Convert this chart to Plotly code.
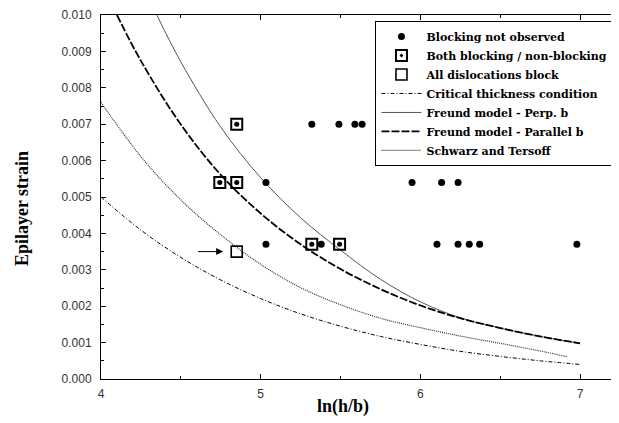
import plotly.graph_objects as go

# ---- data ----
not_obs_x = [5.32, 5.49, 5.59, 5.635, 5.033, 5.948, 6.133, 6.236, 5.033, 5.379, 6.104, 6.236, 6.306, 6.371, 6.98]
not_obs_y = [0.0070, 0.0070, 0.0070, 0.0070, 0.0054, 0.0054, 0.0054, 0.0054, 0.0037, 0.0037, 0.0037, 0.0037, 0.0037, 0.0037, 0.0037]

both_x = [4.85, 4.744, 4.85, 5.32, 5.494]
both_y = [0.0070, 0.0054, 0.0054, 0.0037, 0.0037]

all_x = [4.85]
all_y = [0.0035]

crit_x = [4.0, 4.25, 4.5, 4.75, 5.0, 5.25, 5.5, 5.75, 6.0, 6.25, 6.5, 6.75, 7.0]
crit_y = [0.00500, 0.00409, 0.00334, 0.00272, 0.00221, 0.00179, 0.00145, 0.00117, 0.00095, 0.00076, 0.00062, 0.00050, 0.00040]

perp_x = [4.35, 4.5, 4.75, 5.0, 5.25, 5.5, 5.75, 6.0, 6.25, 6.5, 6.75, 7.0]
perp_y = [0.0100, 0.00871, 0.00692, 0.00553, 0.00443, 0.00354, 0.00274, 0.00212, 0.00168, 0.00140, 0.00117, 0.00098]

par_x = [4.10, 4.25, 4.5, 4.75, 5.0, 5.25, 5.5, 5.75, 6.0, 6.25, 6.5, 6.75, 7.0]
par_y = [0.0100, 0.00874, 0.00699, 0.00561, 0.00455, 0.00370, 0.00302, 0.00247, 0.00202, 0.00167, 0.00140, 0.00117, 0.00098]

st_x = [4.0, 4.25, 4.5, 4.75, 5.0, 5.25, 5.5, 5.75, 6.0, 6.25, 6.5, 6.75, 6.92]
st_y = [0.0076, 0.00611, 0.00492, 0.00396, 0.00315, 0.00251, 0.00204, 0.00167, 0.00141, 0.00118, 0.00098, 0.00077, 0.00061]

x_ticks = [4, 5, 6, 7]
y_ticks = [0.000, 0.001, 0.002, 0.003, 0.004, 0.005, 0.006, 0.007, 0.008, 0.009, 0.010]
y_ticklabels = ["0.000", "0.001", "0.002", "0.003", "0.004", "0.005", "0.006", "0.007", "0.008", "0.009", "0.010"]

# page body has an 8px default margin: figure placed at (8, 8)
OFF = 8
W, H = 619 - OFF, 423 - OFF
L, T, B = 101 - OFF, 13 - OFF, 423 - 379
PW, PH = W - L, H - T - B

def px_x(p):  # page pixel -> paper x
    return (p - OFF - L) / PW

def px_y(p):  # page pixel -> paper y
    return 1 - (p - OFF - T) / PH

fig = go.Figure()

fig.add_trace(go.Scatter(x=crit_x, y=crit_y, mode="lines", name="Critical thickness condition",
                         line=dict(color="black", width=1, dash="4px,2px,1px,2px", shape="spline"), legendrank=4))
fig.add_trace(go.Scatter(x=perp_x, y=perp_y, mode="lines", name="Freund model - Perp. b",
                         line=dict(color="#555", width=1, shape="spline"), legendrank=5))
fig.add_trace(go.Scatter(x=par_x, y=par_y, mode="lines", name="Freund model - Parallel b",
                         line=dict(color="black", width=1.8, dash="8px,2px", shape="spline"), legendrank=6))
fig.add_trace(go.Scatter(x=st_x, y=st_y, mode="lines", name="Schwarz and Tersoff",
                         line=dict(color="#333", width=1.2, dash="1px,1px", shape="spline"), legendrank=7))

fig.add_trace(go.Scatter(x=not_obs_x, y=not_obs_y, mode="markers", name="Blocking not observed",
                         marker=dict(symbol="circle", size=7, color="black"), legendrank=1))
fig.add_trace(go.Scatter(x=both_x, y=both_y, mode="markers", name="Both blocking / non-blocking",
                         marker=dict(symbol="square-open-dot", size=11, color="black",
                                     line=dict(color="black", width=2)), legendrank=2))
fig.add_trace(go.Scatter(x=both_x, y=both_y, mode="markers", showlegend=False, hoverinfo="skip",
                         marker=dict(symbol="circle", size=5, color="black")))
fig.add_trace(go.Scatter(x=all_x, y=all_y, mode="markers", name="All dislocations block",
                         marker=dict(symbol="square-open", size=11, color="black",
                                     line=dict(color="black", width=1.6)), legendrank=3))

fig.add_annotation(x=4.765, y=0.0035, ax=4.598, ay=0.0035, xref="x", yref="y", axref="x", ayref="y",
                   text="", showarrow=True, arrowhead=2, arrowsize=1.4, arrowwidth=1, arrowcolor="black",
                   standoff=0)

# axis titles
fig.add_annotation(text="ln(h/b)", x=px_x(343), y=px_y(407), xref="paper", yref="paper",
                   showarrow=False, xanchor="center", yanchor="middle",
                   font=dict(family="Liberation Serif", size=18, color="black", weight="bold"))
fig.add_annotation(text="Epilayer strain", x=px_x(22), y=px_y(208), xref="paper", yref="paper",
                   showarrow=False, xanchor="center", yanchor="middle", textangle=-90,
                   font=dict(family="Liberation Serif", size=18, color="black", weight="bold"))

fig.update_xaxes(range=[4, 4 + PW / 160], tickvals=x_ticks, ticktext=[str(v) for v in x_ticks],
                 ticks="inside", ticklen=5, tickwidth=1, tickcolor="black",
                 minor=dict(ticks="inside", dtick=0.5, ticklen=3, tickcolor="black"),
                 showline=True, linecolor="black", linewidth=1, mirror="ticks",
                 showgrid=False, zeroline=False, ticklabelstandoff=4, ticklabeloverflow="allow",
                 tickfont=dict(family="Liberation Sans", size=12, color="#333"))
fig.update_yaxes(range=[0, 0.010], tickvals=y_ticks, ticktext=y_ticklabels,
                 ticks="inside", ticklen=5, tickwidth=1, tickcolor="black",
                 minor=dict(ticks="inside", dtick=0.0005, ticklen=3, tickcolor="black"),
                 showline=True, linecolor="black", linewidth=1, mirror="ticks",
                 showgrid=False, zeroline=False, ticklabelstandoff=6, ticklabeloverflow="allow",
                 tickfont=dict(family="Liberation Sans", size=12, color="#333"))

fig.update_layout(
    width=W, height=H,
    margin=dict(l=L, r=0, t=T, b=B),
    paper_bgcolor="white", plot_bgcolor="white",
    showlegend=True,
    legend=dict(x=px_x(376), y=px_y(19), xanchor="left", yanchor="top",
                bgcolor="white", bordercolor="black", borderwidth=1, itemwidth=40,
                tracegroupgap=0,
                font=dict(family="DejaVu Serif", size=11, color="black", weight="bold")),
)

fig.write_html("out.html")
